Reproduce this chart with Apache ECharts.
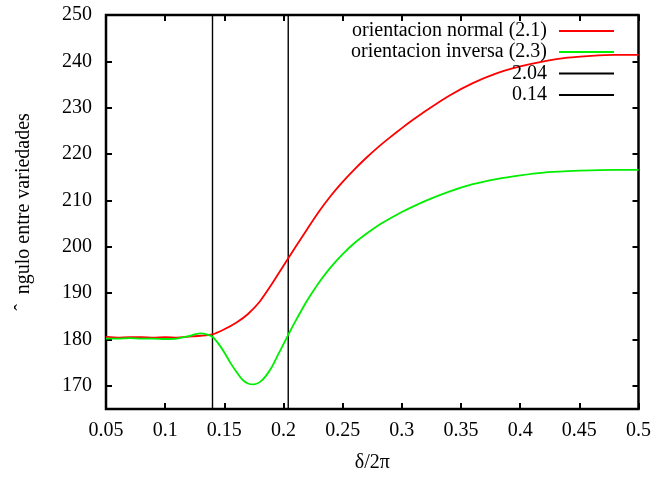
<!DOCTYPE html>
<html>
<head>
<meta charset="utf-8">
<script src="https://cdn.jsdelivr.net/npm/echarts@6/dist/echarts.min.js"></script>
<style>
  html, body { margin: 0; padding: 0; background: #ffffff; }
  #chart { width: 654px; height: 478px; }
</style>
</head>
<body>
<div id="chart"></div>
<script>
// δ/2π sample positions and angle between manifolds for each orientation
const xNormal = [0.05, 0.06, 0.07, 0.08, 0.09, 0.10, 0.11, 0.12, 0.13, 0.14, 0.15, 0.16, 0.17, 0.18, 0.19, 0.20,
  0.21, 0.22, 0.23, 0.24, 0.25, 0.26, 0.27, 0.28, 0.29, 0.30, 0.31, 0.32, 0.34, 0.36, 0.38, 0.40, 0.42, 0.44, 0.46, 0.48, 0.50];
const yNormal = [180.6, 180.4, 180.5, 180.5, 180.4, 180.5, 180.4, 180.6, 180.8, 181.1, 182.2, 183.6, 185.5, 188.2, 191.9, 195.9,
  199.9, 203.8, 207.6, 211.0, 214.0, 216.7, 219.2, 221.5, 223.6, 225.6, 227.5, 229.3, 232.6, 235.3, 237.4, 238.9, 240.0, 240.8, 241.2, 241.4, 241.4];

const xInverse = [0.05, 0.06, 0.07, 0.08, 0.09, 0.10, 0.11, 0.12, 0.125, 0.13, 0.135, 0.14, 0.145, 0.15, 0.155, 0.16, 0.165,
  0.17, 0.175, 0.18, 0.185, 0.19, 0.195, 0.20, 0.205, 0.21, 0.215, 0.22, 0.225, 0.23, 0.24, 0.25, 0.26, 0.27, 0.28, 0.29, 0.30,
  0.32, 0.34, 0.36, 0.38, 0.40, 0.42, 0.44, 0.46, 0.48, 0.50];
const yInverse = [180.2, 180.2, 180.3, 180.2, 180.2, 180.1, 180.2, 180.7, 181.1, 181.3, 181.1, 180.6, 179.1, 177.2, 175.0, 173.1, 171.4,
  170.5, 170.3, 170.8, 172.1, 174.0, 176.5, 179.0, 181.5, 183.9, 186.2, 188.4, 190.4, 192.3, 195.6, 198.4, 200.8, 202.8, 204.6, 206.1, 207.5,
  209.9, 211.9, 213.5, 214.6, 215.4, 216.0, 216.3, 216.5, 216.6, 216.6];

// reference vertical markers
const markerNames = ['2.04', '0.14'];
const markerX = [0.204, 0.14];

const seriesNames = ['orientacion normal (2.1)', 'orientacion inversa (2.3)'];
const yTicks = [170, 180, 190, 200, 210, 220, 230, 240, 250];
const yMin = 165, yMax = 250;

const FONT = 'Liberation Serif';
const pairs = (xs, ys) => xs.map((x, i) => [x, ys[i]]);

const chart = echarts.init(document.getElementById('chart'), null, { renderer: 'canvas' });

const legendNames = [seriesNames[0], seriesNames[1], markerNames[0], markerNames[1]];
const legendTops = [21, 42, 63.5, 85];

const tickStyle = { show: true, inside: true, length: 6, lineStyle: { color: '#000', width: 2 } };

const option = {
  backgroundColor: '#ffffff',
  animation: false,
  grid: {
    left: 106, right: 15, top: 15, bottom: 67,
    show: true, borderColor: '#000', borderWidth: 2.5, backgroundColor: 'transparent'
  },
  legend: legendNames.map((n, i) => ({
    data: [n],
    right: 40,
    top: legendTops[i],
    align: 'right',
    icon: 'rect',
    itemWidth: 55,
    itemHeight: 2,
    padding: 0,
    selectedMode: false,
    textStyle: { fontFamily: FONT, fontSize: 20, color: '#000', padding: [0, 7, 0, 0] }
  })),
  xAxis: [{
    type: 'value', min: 0.05, max: 0.5, interval: 0.05,
    name: 'δ/2π', nameLocation: 'middle', nameGap: 44,
    nameTextStyle: { fontFamily: FONT, fontSize: 20, color: '#000' },
    axisLine: { show: false },
    axisTick: tickStyle,
    axisLabel: {
      fontFamily: FONT, fontSize: 20, color: '#000', margin: 12,
      formatter: v => String(Number(v.toFixed(2)))
    },
    splitLine: { show: false }
  }, {
    type: 'value', position: 'top', min: 0.05, max: 0.5, interval: 0.05,
    axisLine: { show: false },
    axisTick: tickStyle,
    axisLabel: { show: false },
    splitLine: { show: false }
  }],
  yAxis: [{
    type: 'value', min: yMin, max: yMax,
    name: 'ˆ  ngulo entre variedades', nameLocation: 'middle', nameGap: 72,
    nameTextStyle: { fontFamily: FONT, fontSize: 20, color: '#000' },
    axisLine: { show: false },
    axisTick: Object.assign({ customValues: yTicks }, tickStyle),
    axisLabel: {
      fontFamily: FONT, fontSize: 20, color: '#000', margin: 14,
      customValues: yTicks
    },
    splitLine: { show: false }
  }, {
    type: 'value', position: 'right', min: yMin, max: yMax,
    axisLine: { show: false },
    axisTick: Object.assign({ customValues: yTicks }, tickStyle),
    axisLabel: { show: false, customValues: yTicks },
    splitLine: { show: false }
  }],
  series: [
    {
      name: seriesNames[0], type: 'line', data: pairs(xNormal, yNormal),
      showSymbol: false, smooth: 0.2, color: '#ff0000',
      lineStyle: { color: '#ff0000', width: 1.8 }, z: 3
    },
    {
      name: seriesNames[1], type: 'line', data: pairs(xInverse, yInverse),
      showSymbol: false, smooth: 0.2, color: '#00ee00',
      lineStyle: { color: '#00ee00', width: 1.8 }, z: 3
    },
    ...markerNames.map((n, i) => ({
      name: n, type: 'line', data: [[markerX[i], yMin], [markerX[i], yMax]],
      showSymbol: false, color: '#000',
      lineStyle: { color: '#000', width: 1.4 }, z: 2
    }))
  ]
};

chart.setOption(option);
</script>
</body>
</html>
